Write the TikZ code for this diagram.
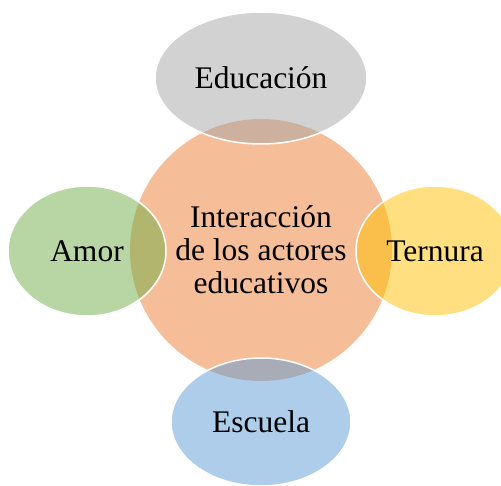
\documentclass[tikz,border=0pt]{standalone}
\usepackage{fontspec}
\setmainfont{Liberation Serif}
\usetikzlibrary{shapes.geometric}

\definecolor{naranja}{HTML}{ED7D31}
\definecolor{gris}{HTML}{A5A5A5}
\definecolor{verde}{HTML}{70AD47}
\definecolor{amarillo}{HTML}{FFC000}
\definecolor{azul}{HTML}{5B9BD5}

\begin{document}
\begin{tikzpicture}[x=1pt,y=1pt,
		satelite/.style={ellipse, draw=white, line width=1.5pt, fill opacity=0.5, draw opacity=1, text opacity=1, inner sep=0pt, font=\fontsize{31.5}{33}\selectfont}]
		\useasboundingbox (0,0) rectangle (501,-486);

		\draw (261,-250) node [circle, minimum size=262pt, inner sep=0pt, fill=naranja, fill opacity=0.5, text opacity=1, align=center, font=\fontsize{31.5}{33}\selectfont] (centro) {Interacción\\de los actores\\educativos};

		\draw (261,-78) node [satelite, fill=gris, minimum width=212pt, minimum height=132pt] (educacion) {Educación};
		\draw (87,-251) node [satelite, fill=verde, minimum width=158pt, minimum height=130pt] (amor) {Amor};
		\draw (435,-251) node [satelite, fill=amarillo, minimum width=158pt, minimum height=130pt] (ternura) {Ternura};
		\draw (261,-422) node [satelite, fill=azul, minimum width=180pt, minimum height=128pt] (escuela) {Escuela};
	\end{tikzpicture}
\end{document}
